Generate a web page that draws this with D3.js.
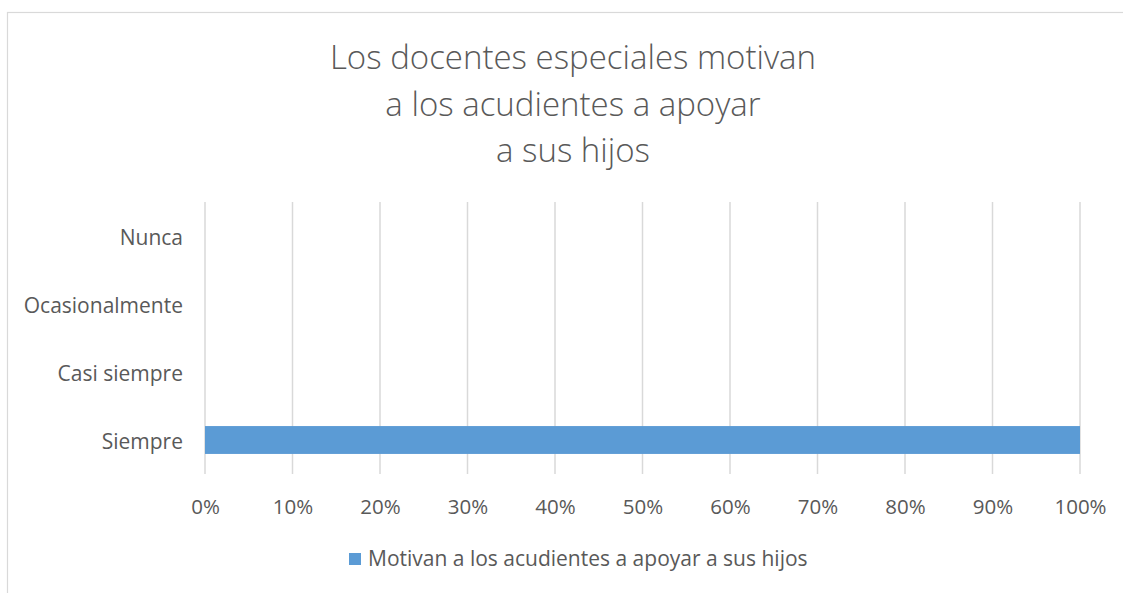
<!DOCTYPE html>
<html>
<head>
<meta charset="utf-8">
<script src="https://cdn.jsdelivr.net/npm/d3@7"></script>
<style>
  body { margin: 0; background: #fff; }
  svg { display: block; font-family: "Open Sans", sans-serif; }
</style>
</head>
<body>
<div id="chart"></div>
<script>
// chart data
var titleLines = ["Los docentes especiales motivan", "a los acudientes a apoyar", "a sus hijos"];
var categories = ["Siempre", "Casi siempre", "Ocasionalmente", "Nunca"];
var values = [1.0, 0, 0, 0];
var seriesName = "Motivan a los acudientes a apoyar a sus hijos";
var ticks = [0, 0.1, 0.2, 0.3, 0.4, 0.5, 0.6, 0.7, 0.8, 0.9, 1.0];

var width = 1123, height = 593;
var textCol = "#595959", gridCol = "#d9d9d9", barCol = "#5b9bd5";
var font = "'Open Sans', sans-serif";

var svg = d3.select("#chart").append("svg")
    .attr("width", width)
    .attr("height", height);

// chart border (runs off right/bottom like the screenshot)
svg.append("rect")
    .attr("x", 7.5).attr("y", 12.5)
    .attr("width", 1130).attr("height", 600)
    .attr("fill", "none")
    .attr("stroke", gridCol)
    .attr("stroke-width", 1.2);

// title
svg.append("g").selectAll("text")
    .data(titleLines)
    .join("text")
    .attr("x", 573)
    .attr("y", (d, i) => 69 + i * 46.5)
    .attr("text-anchor", "middle")
    .attr("fill", textCol)
    .style("font-size", "33px")
    .style("font-weight", 300)
    .text(d => d);

var x = d3.scaleLinear().domain([0, 1]).range([205, 1080]);
var y = d3.scaleBand().domain(categories.slice().reverse()).range([202, 474]).paddingInner(0.59).paddingOuter(0.295);

// gridlines
svg.append("g").selectAll("line")
    .data(ticks)
    .join("line")
    .attr("x1", d => x(d)).attr("x2", d => x(d))
    .attr("y1", 202).attr("y2", 474)
    .attr("stroke", gridCol)
    .attr("stroke-width", 1.5);

// bars
svg.append("g").selectAll("rect")
    .data(categories.map((c, i) => ({ cat: c, v: values[i] })))
    .join("rect")
    .attr("x", x(0))
    .attr("y", d => y(d.cat))
    .attr("width", d => x(d.v) - x(0))
    .attr("height", y.bandwidth())
    .attr("fill", barCol);

// x axis labels
var xAxis = svg.append("g")
    .attr("transform", "translate(0,474)")
    .call(d3.axisBottom(x).tickValues(ticks).tickFormat(d3.format(".0%")).tickSize(0).tickPadding(25));
xAxis.select(".domain").remove();
xAxis.selectAll("text")
    .attr("fill", textCol)
    .style("font-size", "20.5px")
    .style("font-family", font);

// y axis labels
var yAxis = svg.append("g")
    .attr("transform", "translate(205,2)")
    .call(d3.axisLeft(y).tickSize(0).tickPadding(22));
yAxis.select(".domain").remove();
yAxis.selectAll("text")
    .attr("fill", textCol)
    .style("font-size", "21px")
    .style("font-family", font);

// legend
var legend = svg.append("g");
legend.append("rect")
    .attr("x", 349).attr("y", 553)
    .attr("width", 12).attr("height", 12)
    .attr("fill", barCol);
legend.append("text")
    .attr("x", 368).attr("y", 559)
    .attr("dy", "0.35em")
    .attr("fill", textCol)
    .style("font-size", "21px")
    .text(seriesName);
</script>
</body>
</html>
